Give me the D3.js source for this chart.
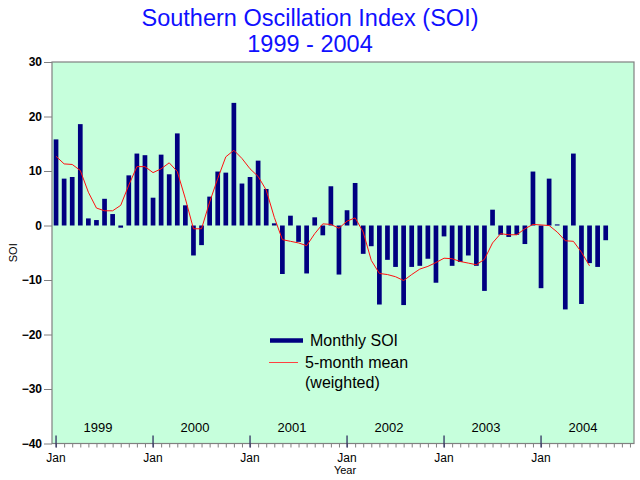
<!DOCTYPE html>
<html>
<head>
<meta charset="utf-8">
<script src="https://cdn.jsdelivr.net/npm/d3@7/dist/d3.min.js"></script>
<style>
  body { margin: 0; background: #fff; }
  text { font-family: "Liberation Sans", Arial, sans-serif; }
  .yaxis text { font-size: 12px; font-weight: bold; fill: #000; }
  .yaxis line { stroke: #808080; }
  .minor line { stroke: #808080; }
</style>
</head>
<body>
<div id="chart"></div>
<script>
// monthly SOI, Jan 1999 .. Sep 2004
var soi = [
  15.8, 8.6, 8.9, 18.6, 1.3, 1.0, 4.9, 2.1, -0.4, 9.2, 13.2, 12.9,
  5.1, 13.0, 9.4, 16.9, 3.7, -5.5, -3.6, 5.3, 9.9, 9.7, 22.5, 7.7,
  8.9, 11.9, 6.7, 0.4, -8.9, 1.8, -3.0, -8.8, 1.5, -1.8, 7.2, -9.0,
  2.8, 7.8, -5.2, -3.8, -14.5, -6.3, -7.6, -14.6, -7.6, -7.4, -6.1, -10.5,
  -2.0, -7.4, -6.7, -5.5, -7.4, -12.0, 2.9, -1.7, -2.1, -1.7, -3.4, 9.9,
  -11.5, 8.6, 0.2, -15.4, 13.2, -14.4, -6.9, -7.6, -2.7
];
// 5-month weighted mean, Jan 1999 .. Jul 2004
var meanSoi = [
  12.7, 11.3, 11.2, 10.1, 6.1, 3.2, 2.7, 2.7, 3.7, 7.4, 10.8, 10.8,
  9.7, 10.4, 11.5, 9.9, 4.9, -0.6, -0.6, 4.3, 8.6, 12.6, 13.8, 12.3,
  10.4, 9.0, 6.5, 1.5, -2.6, -2.9, -3.2, -3.7, -1.5, 0.3, 0.2, -0.5,
  0.8, 1.4, -1.2, -6.4, -8.8, -9.0, -9.4, -10.1, -9.0, -8.0, -7.5, -6.8,
  -6.0, -6.1, -6.6, -6.9, -7.2, -6.2, -3.2, -1.5, -1.7, -1.7, -0.6, 0.2,
  0.1, 0.0, -1.2, -2.8, -2.9, -4.9, -7.4
];
var years = ["1999", "2000", "2001", "2002", "2003", "2004"];
var yTicks = [-40, -30, -20, -10, 0, 10, 20, 30];

var width = 640, height = 480;
var plot = {left: 52, right: 634, top: 62, bottom: 443.5};

var svg = d3.select("#chart").append("svg")
  .attr("width", width)
  .attr("height", height);

var x = d3.scaleLinear().domain([-0.5, 71.5]).range([plot.left, plot.right]);
var y = d3.scaleLinear().domain([-40, 30]).range([plot.bottom, plot.top]);

// title
svg.append("text").attr("x", 310).attr("y", 26)
  .attr("text-anchor", "middle").style("font-size", "23.5px").attr("fill", "#1010ff")
  .text("Southern Oscillation Index (SOI)");
svg.append("text").attr("x", 310).attr("y", 52)
  .attr("text-anchor", "middle").style("font-size", "23.5px").attr("fill", "#1010ff")
  .text("1999 - 2004");

// plot background
svg.append("rect")
  .attr("x", plot.left).attr("y", plot.top)
  .attr("width", plot.right - plot.left).attr("height", plot.bottom - plot.top)
  .attr("fill", "#c6ffdc").attr("stroke", "#808080").attr("stroke-width", 1.2);

// bars
var barW = 4.7;
svg.append("g").selectAll("rect")
  .data(soi).enter()
  .append("rect")
  .attr("x", function(d, i) { return x(i) - barW / 2; })
  .attr("y", function(d) { return y(Math.max(0, d)); })
  .attr("width", barW)
  .attr("height", function(d) { return Math.abs(y(d) - y(0)); })
  .attr("fill", "#000080");

// weighted mean line
var line = d3.line()
  .x(function(d, i) { return x(i); })
  .y(function(d) { return y(d); });
svg.append("path")
  .attr("d", line(meanSoi))
  .attr("fill", "none")
  .attr("stroke", "#ff1010")
  .attr("stroke-width", 1);

// y axis
var yAxis = d3.axisLeft(y).tickValues(yTicks).tickSize(8).tickPadding(2);
svg.append("g").attr("class", "yaxis")
  .attr("transform", "translate(" + plot.left + ",0)")
  .call(yAxis)
  .call(function(g) { g.select(".domain").remove(); });

svg.append("text")
  .attr("transform", "translate(17," + y(-5) + ") rotate(-90)")
  .attr("text-anchor", "middle").style("font-size", "11px")
  .text("SOI");

// x axis: monthly minor ticks
var xMinor = d3.axisBottom(x).tickValues(d3.range(0, 72)).tickSize(4).tickFormat("");
svg.append("g").attr("class", "minor")
  .attr("transform", "translate(0," + plot.bottom + ")")
  .call(xMinor)
  .call(function(g) { g.select(".domain").remove(); });

// January ticks and labels
var jans = svg.append("g").selectAll("g")
  .data(years).enter().append("g")
  .attr("transform", function(d, i) { return "translate(" + x(i * 12) + "," + plot.bottom + ")"; });
jans.append("line")
  .attr("y1", -8).attr("y2", 4)
  .attr("stroke", "#303060").attr("stroke-width", 1.3);
jans.append("text")
  .attr("y", 18).attr("text-anchor", "middle").style("font-size", "12px")
  .text("Jan");

// year labels inside plot
svg.append("g").selectAll("text")
  .data(years).enter().append("text")
  .attr("x", function(d, i) { return x(i * 12 + 5.2); })
  .attr("y", 432)
  .attr("text-anchor", "middle").style("font-size", "13px")
  .text(function(d) { return d; });

svg.append("text")
  .attr("x", 345).attr("y", 474)
  .attr("text-anchor", "middle").style("font-size", "11px")
  .text("Year");

// legend
var legend = svg.append("g");
legend.append("line")
  .attr("x1", 270).attr("x2", 303).attr("y1", 340.5).attr("y2", 340.5)
  .attr("stroke", "#000080").attr("stroke-width", 4.5);
legend.append("text")
  .attr("x", 310).attr("y", 346).style("font-size", "16px")
  .text("Monthly SOI");
legend.append("line")
  .attr("x1", 269).attr("x2", 298).attr("y1", 362.5).attr("y2", 362.5)
  .attr("stroke", "#ff4040").attr("stroke-width", 1);
legend.append("text")
  .attr("x", 305).attr("y", 368).style("font-size", "16px")
  .text("5-month mean");
legend.append("text")
  .attr("x", 305).attr("y", 388).style("font-size", "16px")
  .text("(weighted)");
</script>
</body>
</html>
